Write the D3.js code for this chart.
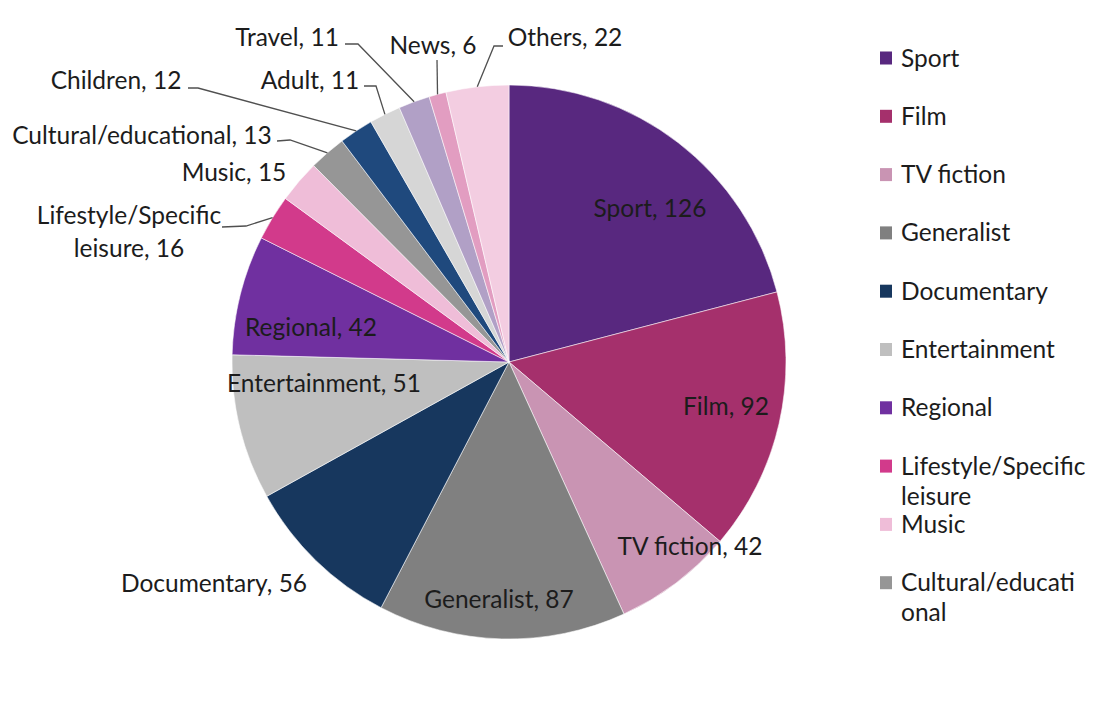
<!DOCTYPE html>
<html>
<head>
<meta charset="utf-8">
<script src="https://cdn.jsdelivr.net/npm/d3@7"></script>
<style>
  html, body { margin: 0; padding: 0; background: #fff; }
  svg text { font-family: "Lato", "Open Sans", sans-serif; fill: #1c1c1c; }
</style>
</head>
<body>
<svg id="chart" width="1102" height="704"></svg>
<script>
// ---------- data ----------
const categories = ["Sport", "Film", "TV fiction", "Generalist", "Documentary",
  "Entertainment", "Regional", "Lifestyle/Specific leisure", "Music",
  "Cultural/educational", "Children", "Adult", "Travel", "News", "Others"];
const values = [126, 92, 42, 87, 56, 51, 42, 16, 15, 13, 12, 11, 11, 6, 22];
const colors = ["#58287f", "#a5306c", "#c994b3", "#808080", "#17375e",
  "#bfbfbf", "#7030a0", "#d23a8b", "#efbdd8", "#969696",
  "#1f497d", "#d6d6d6", "#b1a0c6", "#e29dc1", "#f3cde1"];
const legendLabels = [["Sport"], ["Film"], ["TV fiction"], ["Generalist"], ["Documentary"],
  ["Entertainment"], ["Regional"], ["Lifestyle/Specific", "leisure"], ["Music"],
  ["Cultural/educati", "onal"]];
const sliceLabelLines = [["Sport, 126"], ["Film, 92"], ["TV fiction, 42"], ["Generalist, 87"],
  ["Documentary, 56"], ["Entertainment, 51"], ["Regional, 42"], ["Lifestyle/Specific", "leisure, 16"],
  ["Music, 15"], ["Cultural/educational, 13"], ["Children, 12"], ["Adult, 11"], ["Travel, 11"],
  ["News, 6"], ["Others, 22"]];

// ---------- layout (label placement relative to the pie centre) ----------
const cx = 509, cy = 362, R = 277;
const FS = 24.5;
const labelPos = {               // [x, baseline y] of the label centre, relative to centre
  "Sport": [141, -145],
  "Film": [217, 53],
  "TV fiction": [181, 193],
  "Generalist": [-10, 246],
  "Documentary": [-295, 230],
  "Entertainment": [-185, 30],
  "Regional": [-198, -26],
  "Lifestyle/Specific leisure": [-380, -138],
  "Music": [-275, -181],
  "Cultural/educational": [-367, -218],
  "Children": [-393, -273],
  "Adult": [-199, -273],
  "Travel": [-222, -316],
  "News": [-76, -308],
  "Others": [56, -316]
};
const leaderStart = {            // label-side points of leader lines, relative to centre
  "Lifestyle/Specific leisure": [[-287, -135], [-263, -136]],
  "Cultural/educational": [[-232, -221], [-219, -222]],
  "Children": [[-321, -274], [-311, -274]],
  "Adult": [[-145, -276], [-133, -276]],
  "Travel": [[-164, -318], [-151, -318]],
  "News": [[-72, -302]],
  "Others": [[-6, -316], [-15, -316]]
};

// ---------- drawing ----------
const svg = d3.select("#chart");
const color = d3.scaleOrdinal().domain(categories).range(colors);
const pie = d3.pie().sort(null).value(d => d.value).startAngle(0).endAngle(2 * Math.PI);
const data = categories.map((c, i) => ({ cat: c, value: values[i], lines: sliceLabelLines[i] }));
const arcs = pie(data);
const arc = d3.arc().innerRadius(0).outerRadius(R);

const g = svg.append("g").attr("transform", `translate(${cx},${cy})`);

g.selectAll("path.slice")
  .data(arcs)
  .join("path")
  .attr("class", "slice")
  .attr("d", arc)
  .attr("fill", d => color(d.data.cat))
  .attr("stroke", "#ffffff")
  .attr("stroke-opacity", 0.55)
  .attr("stroke-width", 1);

// leader lines: from label to the slice edge at its mid-angle
const line = d3.line();
g.selectAll("path.leader")
  .data(arcs.filter(d => leaderStart[d.data.cat]))
  .join("path")
  .attr("class", "leader")
  .attr("d", d => {
    const a = (d.startAngle + d.endAngle) / 2;
    const end = [Math.sin(a) * R, -Math.cos(a) * R];
    return line(leaderStart[d.data.cat].concat([end]));
  })
  .attr("fill", "none")
  .attr("stroke", "#505050")
  .attr("stroke-width", 1.3);

// slice labels
const labels = g.selectAll("text.lbl")
  .data(arcs)
  .join("text")
  .attr("class", "lbl")
  .attr("text-anchor", "middle")
  .attr("font-size", FS)
  .attr("x", d => labelPos[d.data.cat][0])
  .attr("y", d => labelPos[d.data.cat][1]);
labels.selectAll("tspan")
  .data(d => d.data.lines.map((t, j) => ({ t, j, x: labelPos[d.data.cat][0] })))
  .join("tspan")
  .attr("x", d => d.x)
  .attr("dy", d => d.j === 0 ? 0 : 33)
  .text(d => d.t);

// legend
const legend = svg.append("g").attr("transform", "translate(880,66.5)");
const items = legend.selectAll("g.item")
  .data(legendLabels.map((l, i) => ({ lines: l, cat: categories[i], i })))
  .join("g")
  .attr("class", "item")
  .attr("transform", d => `translate(0,${d.i * 58.3})`);
items.append("rect")
  .attr("x", 0).attr("y", -15)
  .attr("width", 12).attr("height", 13)
  .attr("fill", d => color(d.cat));
const lt = items.append("text")
  .attr("x", 21).attr("y", 0)
  .attr("font-size", FS);
lt.selectAll("tspan")
  .data(d => d.lines.map((t, j) => ({ t, j })))
  .join("tspan")
  .attr("x", 21)
  .attr("dy", d => d.j === 0 ? 0 : 30)
  .text(d => d.t);
</script>
</body>
</html>
